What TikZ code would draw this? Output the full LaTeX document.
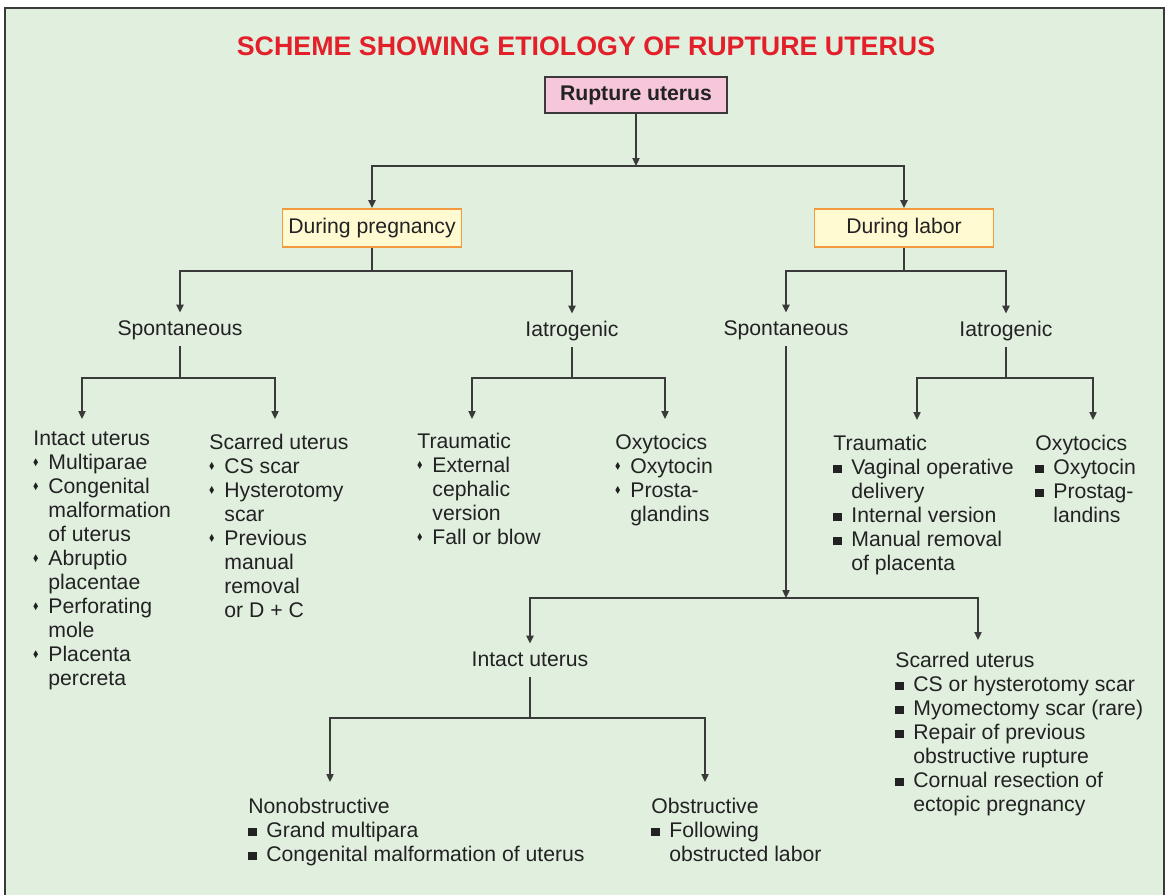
\documentclass[tikz,border=0pt]{standalone}
\usepackage{fontspec}
\setmainfont{Liberation Sans}
\usetikzlibrary{arrows.meta}
\definecolor{ink}{HTML}{222222}
\definecolor{linegray}{HTML}{3A3A3A}
\definecolor{paper}{HTML}{E1EFDF}
\definecolor{titlered}{HTML}{E3202A}
\definecolor{rootpink}{HTML}{F6C6DA}
\definecolor{boxfill}{HTML}{FFFAD2}
\definecolor{boxedge}{HTML}{F29A3E}
\newcommand\dia{\makebox[7.5pt][l]{\raisebox{2pt}{\scalebox{0.6}[1]{\rotatebox{45}{\rule{2.7pt}{2.7pt}}}}}}
\newcommand\sqb{\makebox[9pt][l]{\raisebox{0.8pt}{\rule{4.3pt}{4.3pt}}}}
\newcommand\dcnt{\hspace*{7.5pt}}
\newcommand\scnt{\hspace*{9pt}}
\tikzset{
  every node/.style={text=ink, font=\fontsize{10.6}{12}\selectfont},
  rootbox/.style={draw=linegray, fill=rootpink, line width=.8pt,
    minimum width=91pt, minimum height=18pt, inner sep=0pt,
    font=\fontsize{10.6}{12}\selectfont\bfseries},
  phase/.style={draw=boxedge, fill=boxfill, line width=.9pt,
    minimum width=89.5pt, minimum height=19pt, inner sep=0pt},
  headword/.style={anchor=base, inner xsep=0pt, inner ysep=3pt,
    text height=8pt, text depth=2.5pt},
  causes/.style={align=left, anchor=north west, inner sep=0pt},
  wire/.style={draw=linegray, line width=.8pt},
  feed/.style={wire, -{Triangle[length=4pt,width=3.6pt]}}
}
\begin{document}
\begin{tikzpicture}[x=0.5pt,y=-0.5pt]
\useasboundingbox (0,0) rectangle (1168,895);
\fill[paper] (5,8) rectangle (1164,895);
\draw[linegray, line width=1pt] (5,895) -- (5,8) -- (1164,8) -- (1164,895);

\node[anchor=base, text=titlered, font=\fontsize{13.4}{15}\selectfont\bfseries]
  (title) at (586,55) {SCHEME SHOWING ETIOLOGY OF RUPTURE UTERUS};

% top of the tree
\node[rootbox] (root) at (636,95) {Rupture uterus};
\node[phase] (preg) at (372,228) {During pregnancy};
\node[phase] (labor) at (904,228) {During labor};

\node[headword] (pspon) at (180,335) {Spontaneous};
\node[headword] (piat) at (572,336) {Iatrogenic};
\node[headword] (lspon) at (786,335) {Spontaneous};
\node[headword] (liat) at (1006,336) {Iatrogenic};

% pregnancy causes
\node[causes] (pint) at (33,431) {Intact uterus\\
  \dia Multiparae\\ \dia Congenital\\ \dcnt malformation\\ \dcnt of uterus\\
  \dia Abruptio\\ \dcnt placentae\\ \dia Perforating\\ \dcnt mole\\
  \dia Placenta\\ \dcnt percreta};
\node[causes] (pscar) at (209,434) {Scarred uterus\\
  \dia CS scar\\ \dia Hysterotomy\\ \dcnt scar\\ \dia Previous\\
  \dcnt manual\\ \dcnt removal\\ \dcnt or D + C};
\node[causes] (ptrau) at (417,433) {Traumatic\\
  \dia External\\ \dcnt cephalic\\ \dcnt version\\ \dia Fall or blow};
\node[causes] (poxy) at (615,434) {Oxytocics\\
  \dia Oxytocin\\ \dia Prosta-\\ \dcnt glandins};

% labor causes
\node[causes] (ltrau) at (833,435) {Traumatic\\
  \sqb Vaginal operative\\ \scnt delivery\\ \sqb Internal version\\
  \sqb Manual removal\\ \scnt of placenta};
\node[causes] (loxy) at (1035,435) {Oxytocics\\
  \sqb Oxytocin\\ \sqb Prostag-\\ \scnt landins};
\node[headword] (lint) at (530,666) {Intact uterus};
\node[causes] (lscar) at (895,652) {Scarred uterus\\
  \sqb CS or hysterotomy scar\\ \sqb Myomectomy scar (rare)\\
  \sqb Repair of previous\\ \scnt obstructive rupture\\
  \sqb Cornual resection of\\ \scnt ectopic pregnancy};
\node[causes] (nonob) at (248,798) {Nonobstructive\\
  \sqb Grand multipara\\ \sqb Congenital malformation of uterus};
\node[causes] (obst) at (651,798) {Obstructive\\
  \sqb Following\\ \scnt obstructed labor};

% branch points and arrow ends
\coordinate (j0) at (636,166);
\coordinate (j1) at (372,271);
\coordinate (j2) at (904,271);
\coordinate (j3) at (180,378);
\coordinate (j4) at (572,378);
\coordinate (j5) at (1006,378);
\coordinate (j6) at (786,598);
\coordinate (j7) at (530,718);
\coordinate (pint-in) at (82,419);
\coordinate (pscar-in) at (275,419);
\coordinate (ptrau-in) at (472,419);
\coordinate (poxy-in) at (665,419);
\coordinate (ltrau-in) at (917,420);
\coordinate (loxy-in) at (1093,420);
\coordinate (lscar-in) at (978,640);
\coordinate (nonob-in) at (330,782);
\coordinate (obst-in) at (705,782);

\draw[feed] (root) -- (j0);
\draw[feed] (j0) -| (preg);
\draw[feed] (j0) -| (labor);

\draw[wire] (preg) -- (j1);
\draw[feed] (j1) -| (pspon);
\draw[feed] (j1) -| (piat);
\draw[wire] (labor) -- (j2);
\draw[feed] (j2) -| (lspon);
\draw[feed] (j2) -| (liat);

\draw[wire] (pspon) -- (j3);
\draw[feed] (j3) -| (pint-in);
\draw[feed] (j3) -| (pscar-in);
\draw[wire] (piat) -- (j4);
\draw[feed] (j4) -| (ptrau-in);
\draw[feed] (j4) -| (poxy-in);
\draw[wire] (liat) -- (j5);
\draw[feed] (j5) -| (ltrau-in);
\draw[feed] (j5) -| (loxy-in);

\draw[feed] (lspon) -- (j6);
\draw[feed] (j6) -| (lint);
\draw[feed] (j6) -| (lscar-in);
\draw[wire] (lint) -- (j7);
\draw[feed] (j7) -| (nonob-in);
\draw[feed] (j7) -| (obst-in);

\end{tikzpicture}
\end{document}
